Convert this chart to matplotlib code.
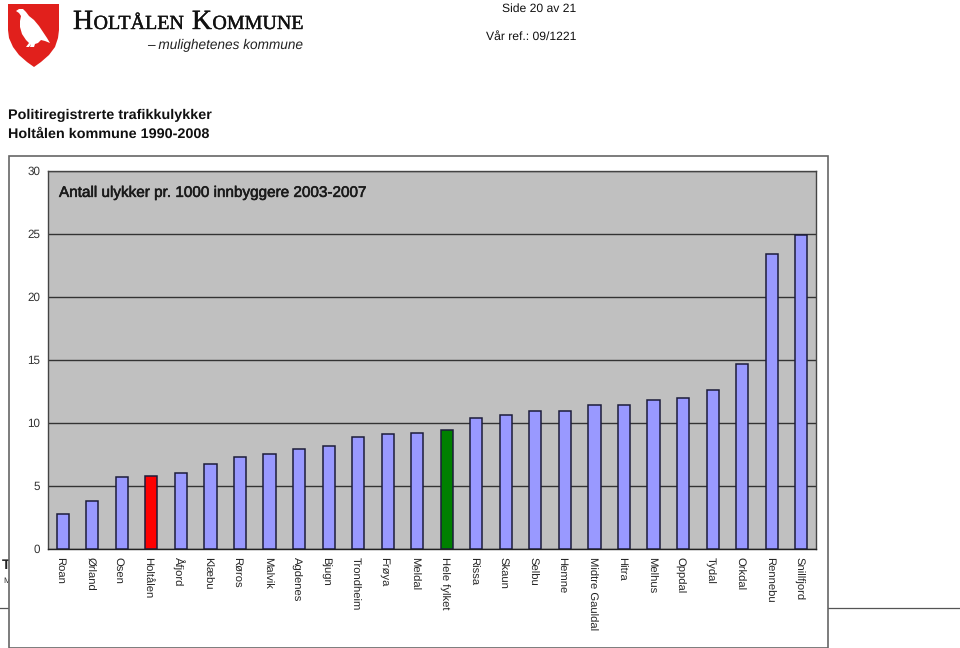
import matplotlib
matplotlib.use("Agg")
import matplotlib.pyplot as plt
from matplotlib.patches import Polygon, Rectangle
from matplotlib.transforms import ScaledTranslation
import matplotlib.patheffects as pe
import numpy as np

plt.rcParams['font.family'] = ['Liberation Sans', 'DejaVu Sans']
plt.rcParams['text.hinting'] = 'no_hinting'

W, H = 960, 648

kommuner = ["Roan", "Ørland", "Osen", "Holtålen", "Åfjord", "Klæbu", "Røros", "Malvik",
            "Agdenes", "Bjugn", "Trondheim", "Frøya", "Meldal", "Hele fylket", "Rissa",
            "Skaun", "Selbu", "Hemne", "Midtre Gauldal", "Hitra", "Melhus", "Oppdal",
            "Tydal", "Orkdal", "Rennebu", "Snillfjord"]
ulykker = [2.8, 3.8, 5.7, 5.8, 6.0, 6.7, 7.3, 7.5, 7.9, 8.2, 8.9, 9.1, 9.2, 9.4, 10.4,
           10.6, 10.9, 10.9, 11.4, 11.4, 11.8, 12.0, 12.6, 14.7, 23.4, 24.9]
y_ticks = [0, 5, 10, 15, 20, 25, 30]
farger = {"Holtålen": "#ff0000", "Hele fylket": "#008000"}

fig = plt.figure(figsize=(W / 100, H / 100), dpi=100, facecolor="white")

# page layer in pixel coordinates
page = fig.add_axes([0, 0, 1, 1])
page.set_xlim(0, W)
page.set_ylim(H, 0)
page.axis("off")

# logo
shield = [(8, 4), (59, 4), (59, 30), (58, 38), (55, 47), (49, 55), (41, 62), (34, 67), (27, 62),
          (19, 55), (13, 47), (9, 38), (8, 30)]
page.add_patch(Polygon(shield, closed=True, fc="#e1201c", ec="none"))
bird = [(16, 11), (19, 9), (23, 9), (26, 12), (29, 16), (34, 20), (39, 26), (43, 32), (47, 38),
        (50, 43), (45, 41), (41, 40), (38, 43), (35, 44), (34, 47), (30, 47), (31, 44), (29, 47),
        (26, 47), (29, 43), (26, 40), (22, 34), (20, 27), (20, 21), (21, 16), (19, 13)]
page.add_patch(Polygon(bird, closed=True, fc="white", ec="none"))


def logo_word(x, first, rest):
    stroke = [pe.withStroke(linewidth=0.3, foreground="#111111")]
    t1 = page.text(x, 29, first, family="Liberation Serif", fontsize=20, color="#111111",
                   va="baseline", path_effects=stroke)
    fig.canvas.draw()
    bb = t1.get_window_extent()
    t2 = page.text(bb.x1 + 0.5, 29, rest, family="Liberation Serif", fontsize=14.4, color="#111111",
                   va="baseline", path_effects=stroke)
    return t2.get_window_extent().x1


end = logo_word(73, "H", "OLTÅLEN")
logo_word(end + 8, "K", "OMMUNE")
page.text(303, 45, "– mulighetenes kommune", fontsize=9.8, style="italic", color="#222222",
          ha="right", va="center")

page.text(576, 8.5, "Side 20 av 21", fontsize=8.7, ha="right", va="center", color="#111111")
page.text(576, 36.5, "Vår ref.: 09/1221", fontsize=8.7, ha="right", va="center", color="#111111")
page.text(8, 115.5, "Politiregistrerte trafikkulykker", fontsize=10.4, weight="bold", va="center", color="#111111")
page.text(8, 134.5, "Holtålen kommune 1990-2008", fontsize=10.4, weight="bold", va="center", color="#111111")

# leftovers of the page text and rule behind the chart frame
page.text(2, 565, "T", fontsize=10, weight="bold", va="center", color="#222222")
page.text(3, 581, "M", fontsize=6, va="center", color="#333333")
page.plot([0, 959], [607.5, 607.5], color="#555555", lw=0.9)
page.add_patch(Rectangle((8.5, 156), 819, 491.5, fc="white", ec="#666666", lw=1.2, zorder=5))

# chart
left, right, top, bottom = 48, 816, 170.5, 549
ax = fig.add_axes([left / W, 1 - bottom / H, (right - left) / W, (bottom - top) / H], zorder=3)
ax.set_facecolor("#c0c0c0")
x = np.arange(len(kommuner))
colors = [farger.get(k, "#9999ff") for k in kommuner]
ax.bar(x, ulykker, width=0.41, color=colors, edgecolor="#1c1c3a", linewidth=1.1, zorder=3)
ax.set_xlim(-0.5, len(kommuner) - 0.5)
ax.set_ylim(y_ticks[0], y_ticks[-1])
ax.set_yticks(y_ticks)
ax.set_xticks(x)
ax.set_xticklabels(kommuner, rotation=270, ha="center", va="top", fontsize=8.1, color="#222222")
ax.tick_params(axis="y", length=0, pad=5.5, labelsize=8.4, labelcolor="#333333")
ax.tick_params(axis="x", length=0, pad=5.5)
shift = ScaledTranslation(-3 / 100, 0, fig.dpi_scale_trans)
for lab in ax.get_xticklabels():
    lab.set_transform(lab.get_transform() + shift)
ax.grid(axis="y", color="#333333", lw=1.0, zorder=1)
ax.set_axisbelow(True)
for s in ax.spines.values():
    s.set_color("#444444")
    s.set_linewidth(1.0)
ax.spines["bottom"].set_color("#222222")
ax.text(59, 193, "Antall ulykker pr. 1000 innbyggere 2003-2007", fontsize=11, color="#1a1a1a",
        va="center", transform=page.transData, zorder=6,
        path_effects=[pe.withStroke(linewidth=0.4, foreground="#1a1a1a")])

fig.savefig("out.png", dpi=100)
